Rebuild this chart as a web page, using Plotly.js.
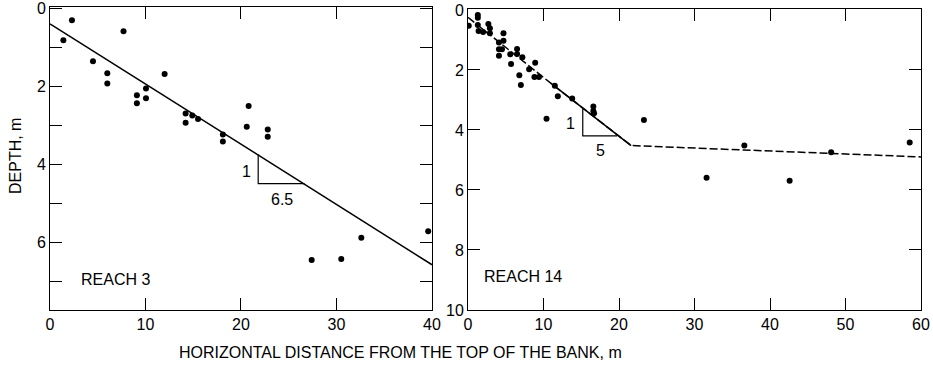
<!DOCTYPE html>
<html>
<head>
<meta charset="utf-8">
<script src="https://cdn.plot.ly/plotly-3.0.1.min.js"></script>
<style>html,body{margin:0;padding:0;background:#fff;}</style>
</head>
<body>
<div id="chart" style="width:933px;height:375px;"></div>
<script>
// ---- Reach 3 data ----
const reach3X = [2.3, 1.4, 7.7, 4.5, 6.0, 6.0, 12.0, 9.1, 9.1, 10.05, 10.05, 14.2, 14.2, 14.9, 15.5, 18.1, 18.1, 20.8, 20.6, 22.8, 22.8, 27.4, 30.5, 32.6, 39.6];
const reach3Y = [0.31, 0.82, 0.59, 1.36, 1.67, 1.93, 1.69, 2.23, 2.44, 2.06, 2.31, 2.70, 2.94, 2.75, 2.84, 3.24, 3.42, 2.51, 3.04, 3.11, 3.30, 6.46, 6.43, 5.89, 5.72];
const fit3X = [0, 40];
const fit3Y = [0.40, 6.58];
const tri3X = [21.8, 21.8, 26.65];
const tri3Y = [3.75, 4.5, 4.5];

// ---- Reach 14 data ----
const reach14X = [0.1, 1.3, 1.3, 1.3, 1.4, 2.0, 2.7, 2.9, 2.9, 4.7, 4.1, 4.7, 4.1, 4.5, 4.1, 5.6, 5.7, 6.5, 6.5, 7.2, 6.8, 7.0, 8.1, 8.9, 8.8, 9.4, 10.4, 11.5, 11.9, 13.8, 16.6, 16.6, 16.7, 23.3, 31.6, 36.6, 42.6, 48.1, 58.5];
const reach14Y = [0.53, 0.17, 0.26, 0.50, 0.70, 0.74, 0.47, 0.61, 0.78, 0.78, 1.09, 1.03, 1.31, 1.31, 1.53, 1.48, 1.80, 1.30, 1.47, 1.58, 2.18, 2.50, 1.98, 1.76, 2.24, 2.24, 3.63, 2.53, 2.88, 2.95, 3.22, 3.37, 3.44, 3.67, 5.59, 4.52, 5.69, 4.74, 4.42];
const fit14DashX = [0, 11, 11, 21.6, 60];
const fit14DashY = [0.25, 2.45, 2.45, 4.52, 4.90];
const fit14SolidX = [11, 21.6];
const fit14SolidY = [2.45, 4.52];
const tri14X = [15.2, 15.2, 19.75];
const tri14Y = [3.29, 4.2, 4.2];

const leftYTicks = [0, 2, 4, 6];
const leftYMinor = [1, 3, 5, 7];
const leftXTicks = [0, 10, 20, 30, 40];
const rightYTicks = [0, 2, 4, 6, 8, 10];
const rightXTicks = [0, 10, 20, 30, 40, 50, 60];

const FONT = 'Liberation Sans, Arial, sans-serif';
const FS = 16;
const mk = {color: '#000', size: 6};

const traces = [
  {x: fit3X, y: fit3Y, xaxis: 'x', yaxis: 'y', mode: 'lines', line: {color: '#000', width: 1.5}},
  {x: tri3X, y: tri3Y, xaxis: 'x', yaxis: 'y', mode: 'lines', line: {color: '#000', width: 1.2}},
  {x: reach3X, y: reach3Y, xaxis: 'x', yaxis: 'y', mode: 'markers', marker: mk},
  {x: fit14DashX, y: fit14DashY, xaxis: 'x2', yaxis: 'y2', mode: 'lines', line: {color: '#000', width: 1.5, dash: '8px,3px'}},
  {x: fit14SolidX, y: fit14SolidY, xaxis: 'x2', yaxis: 'y2', mode: 'lines', line: {color: '#000', width: 1.5}},
  {x: tri14X, y: tri14Y, xaxis: 'x2', yaxis: 'y2', mode: 'lines', line: {color: '#000', width: 1.2}},
  {x: reach14X, y: reach14Y, xaxis: 'x2', yaxis: 'y2', mode: 'markers', marker: mk}
];

const axBase = {
  showgrid: false, zeroline: false, showline: true, linecolor: '#000', linewidth: 1,
  ticks: 'inside', ticklen: 12, tickcolor: '#000', tickwidth: 1, mirror: 'ticks',
  tickfont: {family: FONT, size: FS, color: '#000'}, fixedrange: true,
  ticklabeloverflow: 'allow'
};

const layout = {
  width: 933, height: 375,
  margin: {l: 0, r: 0, t: 0, b: 0},
  paper_bgcolor: '#fff', plot_bgcolor: '#fff',
  showlegend: false,
  font: {family: FONT, color: '#000'},
  xaxis: Object.assign({}, axBase, {domain: [0.05359, 0.46302], range: [0, 40], tickvals: leftXTicks, anchor: 'y'}),
  yaxis: Object.assign({}, axBase, {domain: [0.17333, 0.98133], range: [7.74, -0.03], tickvals: leftYTicks, anchor: 'x',
    minor: {tickvals: leftYMinor, ticks: 'inside', ticklen: 12, tickcolor: '#000', tickwidth: 1, showgrid: false}}),
  xaxis2: Object.assign({}, axBase, {domain: [0.50161, 0.98714], range: [0, 60], tickvals: rightXTicks, anchor: 'y2'}),
  yaxis2: Object.assign({}, axBase, {domain: [0.17333, 0.976], range: [10, -0.03], tickvals: rightYTicks, anchor: 'x2'}),
  annotations: [
    {xref: 'x', yref: 'y', x: 21.3, y: 4.2, text: '1', showarrow: false, xanchor: 'right', yanchor: 'middle', font: {size: FS, family: FONT}},
    {xref: 'x', yref: 'y', x: 24.3, y: 4.9, text: '6.5', showarrow: false, xanchor: 'center', yanchor: 'middle', font: {size: FS, family: FONT}},
    {xref: 'x', yref: 'y', x: 3.0, y: 6.97, text: 'REACH 3', showarrow: false, xanchor: 'left', yanchor: 'middle', font: {size: FS, family: FONT}},
    {xref: 'x2', yref: 'y2', x: 14.4, y: 3.8, text: '1', showarrow: false, xanchor: 'right', yanchor: 'middle', font: {size: FS, family: FONT}},
    {xref: 'x2', yref: 'y2', x: 17.5, y: 4.67, text: '5', showarrow: false, xanchor: 'center', yanchor: 'middle', font: {size: FS, family: FONT}},
    {xref: 'x2', yref: 'y2', x: 1.8, y: 8.9, text: 'REACH 14', showarrow: false, xanchor: 'left', yanchor: 'middle', font: {size: FS, family: FONT}},
    {xref: 'paper', yref: 'paper', x: 16/933, y: 1 - 156/375, text: 'DEPTH, m', textangle: -90, showarrow: false, xanchor: 'center', yanchor: 'middle', font: {size: FS, family: FONT}},
    {xref: 'paper', yref: 'paper', x: 400/933, y: 1 - 352/375, text: 'HORIZONTAL DISTANCE FROM THE TOP OF THE BANK, m', showarrow: false, xanchor: 'center', yanchor: 'middle', font: {size: FS, family: FONT}}
  ]
};

Plotly.newPlot('chart', traces, layout, {staticPlot: true, displayModeBar: false});
</script>
</body>
</html>
